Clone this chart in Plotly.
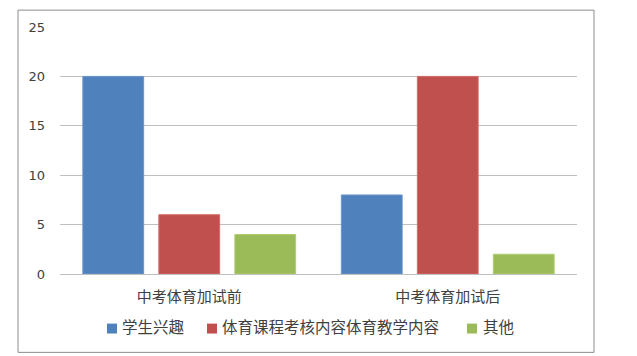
import plotly.graph_objects as go

categories = ["中考体育加试前", "中考体育加试后"]
series_names = ["学生兴趣", "体育课程考核内容体育教学内容", "其他"]
interest = [20, 8]
course = [6, 20]
other = [4, 2]
y_ticks = [0, 5, 10, 15, 20, 25]

colors = ["#4F81BD", "#C0504D", "#9BBB59"]
edge = ["#6a95cc", "#d36c69", "#b0cc72"]

# page body has an 8px default margin; work in window pixels and convert
OFF = 8
W, H = 637 - OFF, 356 - OFF
plot_left, plot_right, plot_top, plot_bottom = 60, 577, 25, 274  # window px
L = plot_left - OFF
T = plot_top - OFF
R = W - (plot_right - OFF)
B = H - (plot_bottom - OFF)
pw, ph = W - L - R, H - T - B


def px_x(x):
    return (x - OFF - L) / pw


def px_y(y):
    return (H - B - (y - OFF)) / ph


fig = go.Figure()
for name, vals, c, e in zip(series_names, [interest, course, other], colors, edge):
    fig.add_trace(go.Bar(x=categories, y=vals, name=name, showlegend=False,
                         marker=dict(color=c, line=dict(color=e, width=1))))

# legend drawn as squares + text to match the reference spacing
legend_sq_x = [107, 207, 467]
legend_txt_x = [120, 220, 481]
shapes = [dict(type="rect", xref="paper", yref="paper",
               x0=px_x(18), x1=px_x(594), y0=px_y(353), y1=px_y(8),
               line=dict(color="#8c8c8c", width=1), fillcolor="rgba(0,0,0,0)",
               layer="below")]
annotations = []
for name, c, sx, tx in zip(series_names, colors, legend_sq_x, legend_txt_x):
    shapes.append(dict(type="rect", xref="paper", yref="paper",
                       x0=px_x(sx), x1=px_x(sx + 10), y0=px_y(334), y1=px_y(324),
                       line=dict(width=0), fillcolor=c))
    annotations.append(dict(text=name, xref="paper", yref="paper",
                            x=px_x(tx), y=px_y(326), xanchor="left", yanchor="middle",
                            showarrow=False,
                            font=dict(size=15.5, family="Noto Sans CJK SC", color="#404040")))

fig.update_layout(
    width=W, height=H,
    margin=dict(l=L, r=R, t=T, b=B),
    paper_bgcolor="white", plot_bgcolor="white",
    barmode="group", bargap=0.118, bargroupgap=0.2,
    font=dict(family="Noto Sans CJK SC", color="#404040"),
    showlegend=False,
    xaxis=dict(showgrid=False, showline=True, linecolor="#bfbfbf", linewidth=1,
               tickfont=dict(size=15, family="Noto Sans CJK SC", color="#404040"),
               ticks="", ticklabelstandoff=9),
    yaxis=dict(range=[0, 25], tickvals=y_ticks, showgrid=True, gridcolor="#bfbfbf",
               gridwidth=1, zeroline=False, showline=False,
               tickfont=dict(size=13, family="DejaVu Sans", color="#404040"),
               ticks="", ticklabelstandoff=14),
    shapes=shapes,
    annotations=annotations,
)

fig.write_html("out.html")
